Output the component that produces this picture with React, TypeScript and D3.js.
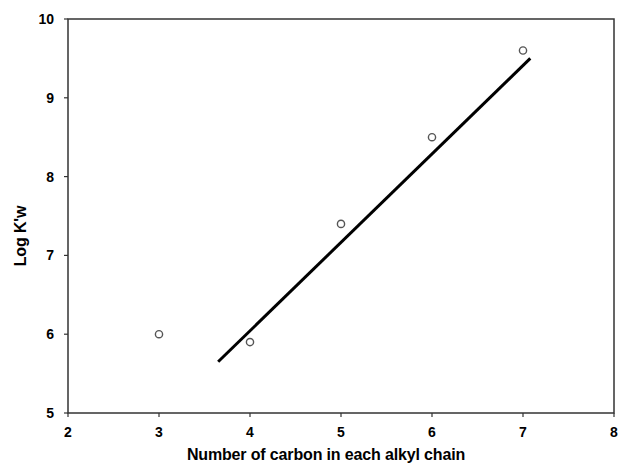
import React from "react";
import * as d3 from "d3";

const carbons = [3, 4, 5, 6, 7];
const logKw = [6.0, 5.9, 7.4, 8.5, 9.6];
const fitX = [3.65, 7.08];
const fitY = [5.65, 9.5];
const xTicks = [2, 3, 4, 5, 6, 7, 8];
const yTicks = [5, 6, 7, 8, 9, 10];

export default function App() {
  const W = 620, H = 466;
  const left = 68, right = 614, top = 19, bottom = 413;
  const x = d3.scaleLinear().domain([2, 8]).range([left, right]);
  const y = d3.scaleLinear().domain([5, 10]).range([bottom, top]);
  const line = d3.line<number>().x((d, i) => x(fitX[i])).y((d, i) => y(fitY[i]));
  const font = "Liberation Sans, Arial, sans-serif";
  return (
    <svg width={W} height={H} style={{ position: "absolute", left: 0, top: 0, background: "#fff" }}>
      <rect x={left} y={top} width={right - left} height={bottom - top} fill="none" stroke="#333" strokeWidth={1.5} />
      {xTicks.map((t) => (
        <g key={"x" + t}>
          <line x1={x(t)} x2={x(t)} y1={bottom} y2={bottom + 4} stroke="#333" strokeWidth={1.2} />
          <text x={x(t)} y={bottom + 24} textAnchor="middle" fontFamily={font} fontWeight="bold" fontSize={14}>{t}</text>
        </g>
      ))}
      {yTicks.map((t) => (
        <g key={"y" + t}>
          <line x1={left - 4} x2={left} y1={y(t)} y2={y(t)} stroke="#333" strokeWidth={1.2} />
          <text x={left - 14} y={y(t) + 5} textAnchor="end" fontFamily={font} fontWeight="bold" fontSize={14}>{t}</text>
        </g>
      ))}
      <path d={line(fitX) || ""} fill="none" stroke="#000" strokeWidth={3} />
      {carbons.map((c, i) => (
        <circle key={"p" + i} cx={x(c)} cy={y(logKw[i])} r={3.6} fill="#fff" stroke="#555" strokeWidth={1.4} />
      ))}
      <text x={326} y={460} textAnchor="middle" fontFamily={font} fontWeight="bold" fontSize={16} letterSpacing={-0.15}>Number of carbon in each alkyl chain</text>
      <text transform={`translate(26, 236) rotate(-90)`} textAnchor="middle" fontFamily={font} fontWeight="bold" fontSize={16} letterSpacing={-0.15}>Log K'w</text>
    </svg>
  );
}
